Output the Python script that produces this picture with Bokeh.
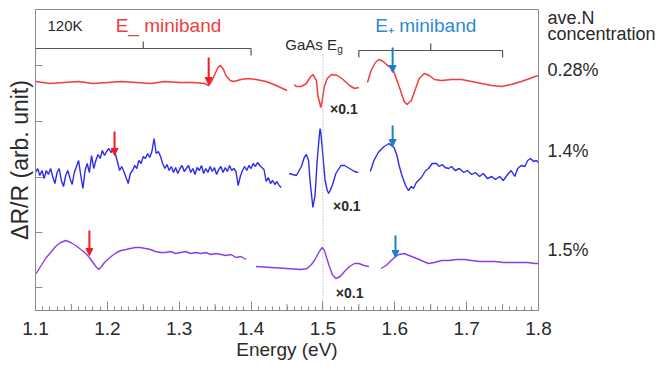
import math
from bokeh.plotting import figure
from bokeh.models import (Label, Arrow, NormalHead, ColumnDataSource, FixedTicker, Range1d, LinearAxis)
from bokeh.embed import file_html
from bokeh.resources import INLINE

# ---------------- data (energy in eV, dR/R in arbitrary units) ----------------
# 0.28 % sample (red)
red_e1 = [1.100, 1.120, 1.140, 1.160, 1.180, 1.200, 1.220, 1.240, 1.260, 1.280, 1.300, 1.320,
          1.335, 1.341, 1.345, 1.350, 1.354, 1.357, 1.361, 1.365, 1.371, 1.376, 1.386, 1.396,
          1.407, 1.421, 1.435, 1.450]
red_y1 = [206, 204, 205, 206, 204, 205, 206, 205, 204, 206, 205, 205,
          204, 202, 206, 214, 220, 222, 219, 212, 207, 206, 208, 209,
          208, 206, 202, 197]
red_e2 = [1.460, 1.463, 1.470, 1.477, 1.482, 1.486, 1.491, 1.493, 1.497, 1.499, 1.502, 1.506,
          1.512, 1.520, 1.528, 1.537, 1.544, 1.550]
red_y2 = [203, 201, 201, 204, 210, 213, 207, 192, 180, 187, 201, 209,
          213, 212, 208, 202, 199, 200]
red_e3 = [1.562, 1.567, 1.573, 1.578, 1.584, 1.590, 1.597, 1.602, 1.608, 1.613, 1.617, 1.623,
          1.629, 1.634, 1.641, 1.648, 1.655, 1.665, 1.679, 1.693, 1.707, 1.721, 1.735, 1.749,
          1.762, 1.776, 1.788, 1.795, 1.800]
red_y3 = [205, 217, 225, 228, 226, 222, 219, 209, 197, 186, 183, 187,
          199, 209, 214, 212, 208, 207, 208, 208, 206, 204, 202, 201,
          203, 206, 209, 211, 212]

# 1.4 % sample (blue)
blue_e1 = [1.100, 1.103, 1.106, 1.109, 1.112, 1.115, 1.118, 1.121, 1.124, 1.127,
           1.130, 1.133, 1.136, 1.139, 1.142, 1.145, 1.148, 1.151, 1.154, 1.157,
           1.160, 1.163, 1.166, 1.169, 1.172, 1.175, 1.178, 1.181, 1.184, 1.187,
           1.190, 1.193, 1.196, 1.199, 1.202, 1.205, 1.208, 1.211, 1.214, 1.217,
           1.220, 1.223, 1.226, 1.229, 1.232, 1.235, 1.238, 1.241, 1.244, 1.247,
           1.250, 1.253, 1.256, 1.259, 1.262, 1.265, 1.268, 1.271, 1.274, 1.277,
           1.280, 1.283, 1.286, 1.289, 1.292, 1.295, 1.298, 1.301, 1.304, 1.307,
           1.310, 1.313, 1.316, 1.319, 1.322, 1.325, 1.328, 1.331, 1.334, 1.337,
           1.340, 1.343, 1.346, 1.349, 1.352, 1.355, 1.358, 1.361, 1.364, 1.367,
           1.370, 1.373, 1.376, 1.379, 1.382, 1.385, 1.388, 1.391, 1.394, 1.397,
           1.400, 1.403, 1.406, 1.409, 1.412, 1.415, 1.418, 1.421, 1.424, 1.427,
           1.430, 1.433, 1.436, 1.439, 1.442]
blue_y1 = [115, 119, 112, 117, 109, 117, 113, 119, 111, 104,
           115, 119, 107, 101, 112, 117, 109, 103, 115, 121,
           127, 112, 99, 117, 124, 115, 132, 119, 127, 133,
           129, 137, 132, 136, 139, 135, 138, 134, 126, 117,
           121, 116, 110, 104, 114, 117, 122, 119, 127, 124,
           131, 129, 134, 130, 136, 149, 134, 136, 131, 124,
           119, 123, 117, 121, 115, 120, 114, 119, 122, 116,
           119, 122, 115, 119, 113, 120, 117, 122, 114, 119,
           115, 121, 116, 120, 113, 118, 121, 115, 120, 116,
           122, 117, 119, 116, 102, 111, 117, 121, 117, 122,
           119, 124, 121, 125, 122, 120, 118, 106, 110, 104,
           107, 103, 106, 102, 100]
blue_e2 = [1.453, 1.463, 1.470, 1.474, 1.477, 1.480, 1.482, 1.485, 1.486, 1.489, 1.492, 1.495,
           1.496, 1.497, 1.500, 1.503, 1.506, 1.508, 1.513, 1.518, 1.525, 1.530, 1.537, 1.544,
           1.549]
blue_y2 = [114, 112, 121, 130, 133, 127, 107, 87, 80, 92, 127, 152,
           159, 155, 132, 107, 97, 94, 102, 114, 122, 122, 119, 116,
           115]
blue_e3 = [1.566, 1.571, 1.577, 1.585, 1.590, 1.592, 1.595, 1.599, 1.603, 1.606, 1.610, 1.615,
           1.619, 1.623, 1.626, 1.630, 1.637, 1.643, 1.647, 1.652, 1.658, 1.662, 1.666, 1.670,
           1.675, 1.679, 1.684, 1.690, 1.696, 1.701, 1.707, 1.712, 1.718, 1.723, 1.729, 1.735,
           1.740, 1.746, 1.751, 1.757, 1.762, 1.767, 1.771, 1.776, 1.781, 1.785, 1.789, 1.793,
           1.797, 1.800]
blue_y3 = [116, 127, 135, 141, 143, 144, 142, 140, 132, 122, 112, 102,
           97, 101, 99, 105, 110, 117, 119, 124, 124, 121, 123, 120,
           119, 121, 117, 119, 115, 117, 113, 115, 111, 114, 109, 111,
           108, 111, 107, 113, 117, 111, 119, 122, 121, 127, 129, 126,
           127, 125]

# 1.5 % sample (purple)
purple_e1 = [1.101, 1.107, 1.114, 1.121, 1.128, 1.135, 1.142, 1.149, 1.156, 1.163, 1.170, 1.175,
             1.180, 1.184, 1.188, 1.192, 1.196, 1.202, 1.207, 1.213, 1.219, 1.226, 1.232, 1.239,
             1.246, 1.253, 1.260, 1.267, 1.274, 1.281, 1.288, 1.295, 1.302, 1.309, 1.316, 1.323,
             1.330, 1.337, 1.344, 1.351, 1.358, 1.365, 1.372, 1.379, 1.386, 1.393]
purple_y1 = [14, 21, 29, 35, 41, 45, 47, 45, 42, 38, 34, 30,
             25, 21, 18, 21, 25, 29, 32, 35, 37, 38, 39, 40,
             40, 39, 38, 36, 35, 35, 36, 34, 35, 36, 34, 35,
             34, 35, 33, 34, 33, 32, 33, 30, 31, 28]
purple_e2 = [1.407, 1.428, 1.449, 1.470, 1.478, 1.484, 1.489, 1.495, 1.499, 1.502, 1.505, 1.509,
             1.513, 1.518, 1.524, 1.530, 1.537, 1.544, 1.550, 1.557, 1.564]
purple_y2 = [21, 20, 19, 18, 19, 23, 28, 36, 40, 37, 30, 21,
             13, 9, 11, 16, 21, 24, 24, 22, 21]
purple_e3 = [1.581, 1.588, 1.595, 1.601, 1.606, 1.613, 1.620, 1.627, 1.634, 1.640, 1.647, 1.655,
             1.665, 1.675, 1.686, 1.697, 1.707, 1.718, 1.729, 1.740, 1.751, 1.762, 1.774, 1.785,
             1.795, 1.800]
purple_y3 = [19, 22, 27, 31, 33, 34, 32, 30, 28, 26, 24, 25,
             27, 27, 28, 28, 27, 26, 26, 26, 25, 25, 25, 25,
             24, 24]

# arrows: energy, start level, tip level
eminus_arrow_e = [1.341, 1.210, 1.175]
eminus_arrow_y0 = [230, 156, 57]
eminus_arrow_y1 = [203, 132, 32]
eplus_arrow_e = [1.597, 1.597, 1.601]
eplus_arrow_y0 = [240, 162, 52]
eplus_arrow_y1 = [215, 141, 30]

# miniband brackets: (start, end) energies and level
bracket_ranges = [(1.10, 1.40), (1.55, 1.75)]
bracket_levels = [239, 237]

gaas_eg = 1.5
right_labels = ["ave.N", "concentration", "0.28%", "1.4%", "1.5%"]
right_levels = [270, 254, 218, 137, 38]
scale_levels = [179, 82, -5]
scale_e = [1.510, 1.514, 1.518]

x_ticks = [1.1, 1.2, 1.3, 1.4, 1.5, 1.6, 1.7, 1.8]
y_ticks = [0, 55, 110, 166, 222]
Y0, Y1 = -23, 278

# ---------------- figure ----------------
FONT = "Liberation Sans"
GRAY = "#8a8a8a"
TXT = "#2a2a2a"

p = figure(width=659, height=367, output_backend="svg", toolbar_location=None,
           x_range=Range1d(1.1, 1.8), y_range=Range1d(Y0, Y1),
           min_border_left=35, min_border_right=121, min_border_top=9, min_border_bottom=57)
p.xgrid.visible = False
p.ygrid.visible = False
p.outline_line_color = GRAY
p.outline_line_width = 1
p.background_fill_color = "white"
p.border_fill_color = "white"

minor = [round(1.1 + 0.01 * i, 2) for i in range(71)]
p.xaxis.ticker = FixedTicker(ticks=x_ticks, minor_ticks=minor)
p.xaxis.major_tick_in = 9
p.xaxis.major_tick_out = 0
p.xaxis.minor_tick_in = 4
p.xaxis.minor_tick_out = 0
for ax in (p.xaxis, p.yaxis):
    ax.axis_line_color = GRAY
    ax.major_tick_line_color = GRAY
    ax.minor_tick_line_color = GRAY
p.xaxis.major_label_text_font = FONT
p.xaxis.major_label_text_font_size = "19px"
p.xaxis.major_label_text_color = TXT
p.xaxis.major_label_standoff = 11
p.xaxis.axis_label = "Energy (eV)"
p.xaxis.axis_label_text_font = FONT
p.xaxis.axis_label_text_font_size = "19px"
p.xaxis.axis_label_text_font_style = "normal"
p.xaxis.axis_label_text_color = TXT
p.xaxis.axis_label_standoff = 1

# medium ticks half way between the labelled ones
mid_ticks = [round((a + b) / 2, 3) for a, b in zip(x_ticks[:-1], x_ticks[1:])]
p.segment(x0=mid_ticks, y0=[Y0] * len(mid_ticks), x1=mid_ticks, y1=[Y0 + 6.5] * len(mid_ticks),
          line_color=GRAY, line_width=1)

p.yaxis.ticker = FixedTicker(ticks=y_ticks)
p.yaxis.major_tick_in = 7
p.yaxis.major_tick_out = 0
p.yaxis.minor_tick_line_color = None
p.yaxis.major_label_overrides = {t: "" for t in y_ticks}
p.yaxis.major_label_standoff = 0
p.yaxis.axis_label = "\u0394R/R (arb. unit)"
p.yaxis.axis_label_text_font = FONT
p.yaxis.axis_label_text_font_size = "23px"
p.yaxis.axis_label_text_font_style = "normal"
p.yaxis.axis_label_text_color = TXT
p.yaxis.axis_label_standoff = 3

# right-hand sample labels
rax = LinearAxis(ticker=FixedTicker(ticks=right_levels),
                 major_label_overrides={lev: t for lev, t in zip(right_levels, right_labels)})
rax.axis_line_color = None
rax.major_tick_line_color = None
rax.minor_tick_line_color = None
rax.major_label_standoff = 3
rax.major_label_text_font = FONT
rax.major_label_text_font_size = "18px"
rax.major_label_text_color = TXT
p.add_layout(rax, "right")

RED = "#f53b3b"
BLUE = "#2b2bf0"
PURPLE = "#8b3ee6"
ARROW_RED = "#ee1c24"
ARROW_BLUE = "#1f7fc8"

for xs, ys in [(red_e1, red_y1), (red_e2, red_y2), (red_e3, red_y3)]:
    p.line(xs, ys, line_color=RED, line_width=1.5)
for xs, ys in [(blue_e1, blue_y1), (blue_e2, blue_y2), (blue_e3, blue_y3)]:
    p.line(xs, ys, line_color=BLUE, line_width=1.4)
for xs, ys in [(purple_e1, purple_y1), (purple_e2, purple_y2), (purple_e3, purple_y3)]:
    p.line(xs, ys, line_color=PURPLE, line_width=1.4)

# GaAs Eg dotted marker
p.segment(x0=[gaas_eg], y0=[Y0], x1=[gaas_eg], y1=[234], line_color="#9a9a9a",
          line_width=1, line_dash="1 2")

# brackets
TICK = 7
for (a, b), lev in zip(bracket_ranges, bracket_levels):
    mid = (a + b) / 2
    p.multi_line(xs=[[a, a, b, b], [mid, mid]],
                 ys=[[lev - TICK, lev, lev, lev - TICK], [lev, lev + TICK]],
                 line_color="#555555", line_width=1.2)

# arrows
for es, y0s, y1s, c in [(eminus_arrow_e, eminus_arrow_y0, eminus_arrow_y1, ARROW_RED),
                        (eplus_arrow_e, eplus_arrow_y0, eplus_arrow_y1, ARROW_BLUE)]:
    src = ColumnDataSource(dict(x=es, y0=y0s, y1=y1s))
    p.add_layout(Arrow(source=src, x_start="x", y_start="y0", x_end="x", y_end="y1",
                       line_color=c, line_width=2,
                       end=NormalHead(size=7, fill_color=c, line_color=c, line_width=1)))


def lab(x, y, text, size, color=TXT, align="left", style="normal"):
    p.add_layout(Label(x=x, y=y, text=text, text_font=FONT, text_font_size=size,
                       text_color=color, text_align=align, text_baseline="middle",
                       text_font_style=style))


lab(1.1167, 262, "120K", "15px")
lab(1.2116, 262, "E_ miniband", "19px", color="#f03c3c")
lab(1.5728, 262, "E\u208a miniband", "19px", color="#2b8ad6")
lab(1.5195, 243, "GaAs E", "15px", align="right")
lab(1.5198, 238, "g", "10px")
for e, lev in zip(scale_e, scale_levels):
    lab(e, lev, "\u00d70.1", "14px", style="bold")

open("out.html", "w").write(file_html(p, INLINE))
